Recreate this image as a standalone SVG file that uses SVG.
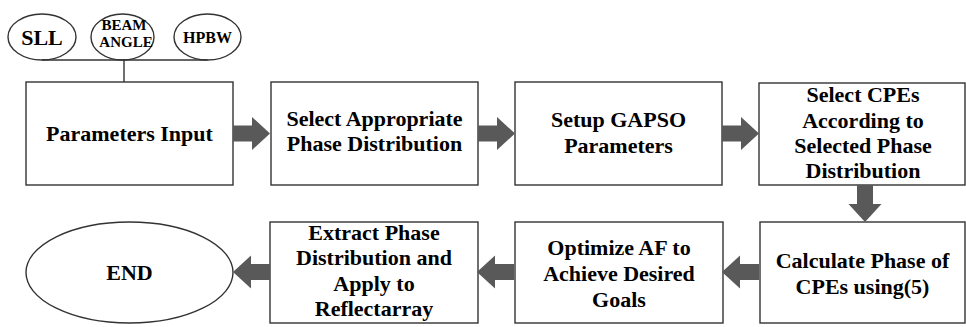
<svg xmlns="http://www.w3.org/2000/svg" xmlns:xlink="http://www.w3.org/1999/xlink" width="966" height="327" viewBox="0 0 966 327">
  <style>
    .box { fill: #ffffff; stroke: #333333; stroke-width: 1.4; }
    .line { fill: none; stroke: #333333; stroke-width: 1.4; }
    .lbl { font-family: "Liberation Serif", "Times New Roman", serif; font-weight: bold; font-size: 22px; fill: #000000; text-anchor: middle; }
    .small { font-size: 15px; }
    .mid { font-size: 16px; }
    .arrow { fill: #595959; }
  </style>
  <defs>
    <!-- block arrow pointing right, origin at tail centre -->
    <path id="blockArrow" d="M0,-8 H19 V-16.5 L37,0 L19,16.5 V8 H0 Z"/>
  </defs>

  <!-- input parameter ellipses -->
  <g id="sll">
    <ellipse class="box" cx="42" cy="37" rx="34" ry="23"/>
    <text class="lbl" x="42" y="44.5">SLL</text>
  </g>
  <g id="beam-angle">
    <ellipse class="box" cx="122.5" cy="37" rx="31.5" ry="23"/>
    <text class="lbl small" x="124" y="30">BEAM</text>
    <text class="lbl small" x="126" y="47">ANGLE</text>
  </g>
  <g id="hpbw">
    <ellipse class="box" cx="207.5" cy="37" rx="33.5" ry="23"/>
    <text class="lbl mid" x="207.5" y="42.5">HPBW</text>
  </g>

  <!-- top row -->
  <g id="parameters-input">
    <rect class="box" x="26" y="82" width="207" height="103"/>
    <text class="lbl" x="129.5" y="141">Parameters Input</text>
  </g>
  <g id="select-phase">
    <rect class="box" x="271" y="82" width="207" height="103"/>
    <text class="lbl" x="374.5" y="126">Select Appropriate</text>
    <text class="lbl" x="374.5" y="151">Phase Distribution</text>
  </g>
  <g id="setup-gapso">
    <rect class="box" x="515" y="82" width="207" height="103"/>
    <text class="lbl" x="618.5" y="127">Setup GAPSO</text>
    <text class="lbl" x="618.5" y="153">Parameters</text>
  </g>
  <g id="select-cpes">
    <rect class="box" x="759" y="83" width="206" height="102"/>
    <text class="lbl" x="863" y="102">Select CPEs</text>
    <text class="lbl" x="863" y="127.5">According to</text>
    <text class="lbl" x="863" y="153">Selected Phase</text>
    <text class="lbl" x="863" y="178">Distribution</text>
  </g>

  <!-- bottom row -->
  <g id="calculate-phase">
    <rect class="box" x="760" y="222" width="205" height="101"/>
    <text class="lbl" x="862.5" y="268">Calculate Phase of</text>
    <text class="lbl" x="862.5" y="294">CPEs using(5)</text>
  </g>
  <g id="optimize-af">
    <rect class="box" x="515" y="222" width="208" height="101"/>
    <text class="lbl" x="619" y="255">Optimize AF to</text>
    <text class="lbl" x="619" y="281">Achieve Desired</text>
    <text class="lbl" x="619" y="307">Goals</text>
  </g>
  <g id="extract-phase">
    <rect class="box" x="270" y="222" width="208" height="101"/>
    <text class="lbl" x="374" y="240">Extract Phase</text>
    <text class="lbl" x="374" y="265">Distribution and</text>
    <text class="lbl" x="374" y="291">Apply to</text>
    <text class="lbl" x="374" y="316">Reflectarray</text>
  </g>
  <g id="end">
    <ellipse class="box" cx="129.5" cy="272.5" rx="103.5" ry="50.5"/>
    <text class="lbl" x="129.5" y="280">END</text>
  </g>

  <!-- connectors -->
  <g id="connectors">
    <polyline class="line" points="42,60 207.5,60"/>
    <line class="line" x1="124" y1="60" x2="124" y2="82"/>
    <use xlink:href="#blockArrow" class="arrow" transform="translate(233,133.5)"/>
    <use xlink:href="#blockArrow" class="arrow" transform="translate(478,133.5)"/>
    <use xlink:href="#blockArrow" class="arrow" transform="translate(722,133.5)"/>
    <use xlink:href="#blockArrow" class="arrow" transform="translate(865,185) rotate(90)"/>
    <use xlink:href="#blockArrow" class="arrow" transform="translate(759,272) scale(-1,1)"/>
    <use xlink:href="#blockArrow" class="arrow" transform="translate(514,272) scale(-1,1)"/>
    <use xlink:href="#blockArrow" class="arrow" transform="translate(270,272) scale(-1,1)"/>
  </g>
</svg>
